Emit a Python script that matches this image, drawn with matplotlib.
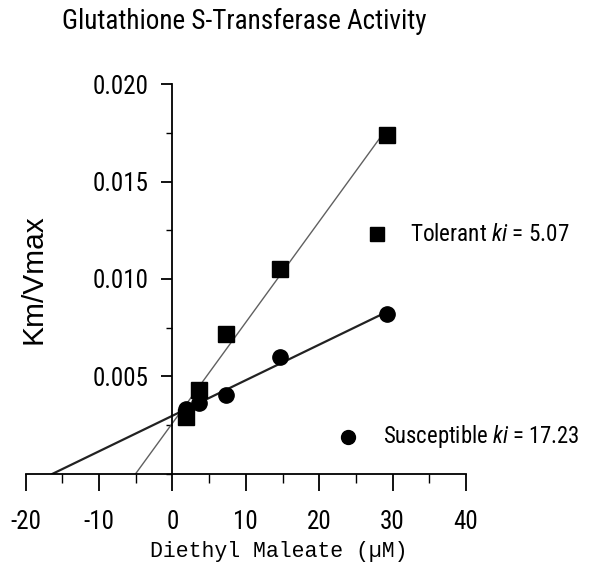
import numpy as np
import matplotlib
matplotlib.use('Agg')
import matplotlib.pyplot as plt
from matplotlib.ticker import MultipleLocator, FormatStrFormatter

NARROW = ['Liberation Sans Narrow', 'Arial Narrow', 'Roboto Condensed', 'Liberation Sans', 'DejaVu Sans']
plt.rcParams['font.family'] = NARROW
plt.rcParams['axes.unicode_minus'] = False
plt.rcParams['mathtext.fontset'] = 'custom'
plt.rcParams['mathtext.rm'] = 'Roboto Condensed'
plt.rcParams['mathtext.it'] = 'Roboto Condensed:italic'

# data
dem = [1.83, 3.65, 7.3, 14.6, 29.2]                        # Diethyl Maleate (uM)
tolerant = [0.0029, 0.0043, 0.0072, 0.0105, 0.0174]       # Km/Vmax
susceptible = [0.00335, 0.00365, 0.00405, 0.0060, 0.0082]
tol_label = 'Tolerant $ki$ = 5.07'
sus_label = 'Susceptible $ki$ = 17.23'
xticks = [-20, -10, 0, 10, 20, 30, 40]
yticks = [0.005, 0.010, 0.015, 0.020]

fig = plt.figure(figsize=(5.92, 5.81), dpi=100)
ax = fig.add_axes([0.0434, 0.1842, 0.7437, 0.6712])

x = np.array(dem)
for ys, lw, col in [(tolerant, 1.0, '#606060'), (susceptible, 1.6, '#222222')]:
    k, b = np.polyfit(x, ys, 1)
    x0 = -b / k          # line runs from the x-intercept to the last point
    xx = np.array([x0, x.max()])
    ax.plot(xx, k * xx + b, color=col, lw=lw, zorder=2)

ax.plot(dem, tolerant, 's', color='black', ms=11, zorder=3)
ax.plot(dem, susceptible, 'o', color='black', ms=11, zorder=3)

# legend-like labels
ax.plot([0.798], [0.615], 's', color='black', ms=10, transform=ax.transAxes, clip_on=False)
ax.text(0.873, 0.615, tol_label, transform=ax.transAxes, fontsize=16.7, va='center')
ax.plot([0.732], [0.095], 'o', color='black', ms=10, transform=ax.transAxes, clip_on=False)
ax.text(0.811, 0.095, sus_label, transform=ax.transAxes, fontsize=16.3, va='center')

ax.set_xlim(-20, 40)
ax.set_ylim(0, 0.020)
ax.spines['left'].set_position(('data', 0))
ax.spines['right'].set_visible(False)
ax.spines['top'].set_visible(False)
ax.spines['left'].set_linewidth(1.3)
ax.spines['bottom'].set_linewidth(1.3)

ax.set_xticks(xticks)
ax.set_yticks(yticks)
ax.xaxis.set_minor_locator(MultipleLocator(5))
ax.yaxis.set_minor_locator(MultipleLocator(0.0025))
ax.yaxis.set_major_formatter(FormatStrFormatter('%.3f'))
ax.tick_params(which='both', direction='out', labelsize=18)
ax.tick_params(axis='y', which='major', length=8, width=1.3, pad=9)
ax.tick_params(axis='y', which='minor', length=4.5, width=1.0)
ax.tick_params(axis='x', which='major', length=12, width=1.3, pad=14)
ax.tick_params(axis='x', which='minor', length=6.5, width=1.0)

ax.set_ylabel('Km/Vmax', fontsize=21.5, family=['Liberation Sans', 'DejaVu Sans'])
ax.yaxis.set_label_coords(0.05, 0.5)
ax.set_xlabel('Diethyl Maleate (\u00b5M)', fontsize=15.5, va='center',
              family=['Liberation Mono', 'DejaVu Sans Mono'])
ax.xaxis.set_label_coords(0.575, -0.2)

fig.text(62 / 592, 1 - 29 / 581, 'Glutathione S-Transferase Activity', fontsize=19.5, va='baseline')

fig.savefig('out.png', dpi=100)
